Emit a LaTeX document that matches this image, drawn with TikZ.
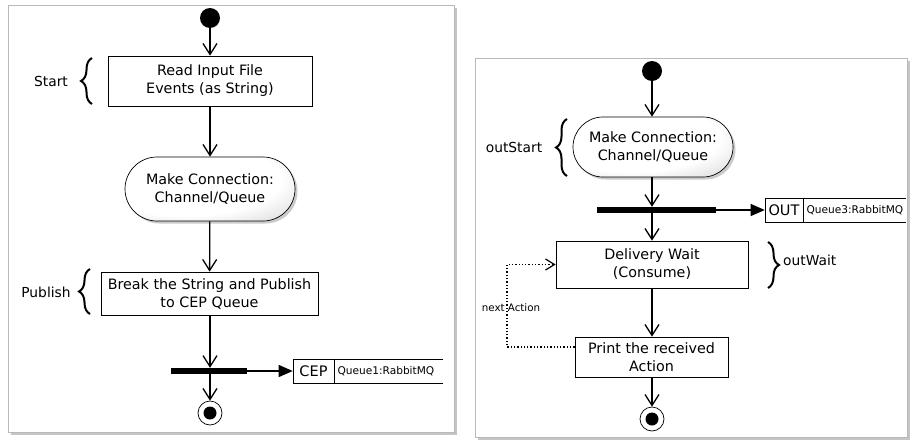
\documentclass[tikz,border=0pt]{standalone}
\usepackage{fontspec}
\setmainfont{DejaVu Sans}
\usetikzlibrary{arrows.meta,shapes.misc,shadows,decorations.pathreplacing}
\pgfdeclareradialshading{actball}{\pgfpoint{-12bp}{12bp}}{%
  color(0bp)=(white); color(28bp)=(white); color(44bp)=(gray!35); color(56bp)=(gray!70); color(70bp)=(gray!70)}
\begin{document}
\begin{tikzpicture}[x=1pt,y=-1pt,
  every node/.style={font=\fontsize{14.3}{18}\selectfont, align=center, inner sep=0pt},
  panel/.style={fill=white, draw=gray!55, line width=0.8pt, drop shadow={shadow xshift=2.5pt, shadow yshift=-3pt, opacity=0.45, fill=gray}},
  initial/.style={circle, fill=black, minimum size=20pt},
  final/.style={circle, draw=black, line width=0.7pt, minimum size=24pt, fill=white,
     path picture={\fill[black] (path picture bounding box.center) circle (6.5pt);}},
  actbox/.style={rectangle, draw=black, line width=0.7pt, fill=white},
  roundact/.style={rounded rectangle, draw=black, line width=0.7pt, shading=actball,
     drop shadow={shadow xshift=2.5pt, shadow yshift=-2.5pt, opacity=0.5, fill=gray!80}},
  forkbar/.style={rectangle, fill=black, minimum height=6pt},
  tagcell/.style={rectangle, draw=black, line width=0.6pt, minimum height=24pt, fill=white, font=\fontsize{14.5}{16}\selectfont},
  qcell/.style={rectangle, minimum height=24pt, inner xsep=3pt, align=left, font=\fontsize{10.6}{13}\selectfont, anchor=west},
  flow/.style={line width=1.3pt, -{Straight Barb[length=11pt,width=14pt,line width=1.3pt]}},
  objflow/.style={line width=1.3pt, -{Triangle[length=14pt,width=12pt]}},
  loopflow/.style={line width=1.3pt, dotted, -{Straight Barb[length=9pt,width=11pt,line width=1.2pt]}},
  bracebig/.style={decorate, decoration={brace, amplitude=11pt}, line width=2pt},
  sidelabel/.style={font=\fontsize{13.8}{15}\selectfont},
  smalllabel/.style={font=\fontsize{10.3}{12}\selectfont}
]
\useasboundingbox (0,0) rectangle (914,442);
\fill[white] (0,0) rectangle (914,442);

% panels
\path[panel] (8,5) rectangle (454,432);
\path[panel] (475,58) rectangle (907,437);

% ---------- left diagram ----------
\node[initial] (s1) at (210,18) {};
\node[actbox, minimum width=204pt, minimum height=50pt] (read) at (210,81) {Read Input File\\Events (as String)};
\node[roundact, minimum width=170pt, minimum height=64pt] (conn1) at (210,189) {Make Connection:\\Channel/Queue};
\node[actbox, minimum width=217pt, minimum height=43pt] (pub) at (209.5,293.5) {Break the String and Publish\\to CEP Queue};
\node[forkbar, minimum width=76pt] (bar1) at (209,371) {};
\node[tagcell, minimum width=41pt] (cep) at (313.5,371) {CEP};
\node[qcell, text width=102pt] (q1) at (cep.east) {Queue1:RabbitMQ};
\draw[line width=0.6pt] (q1.north west) -- (q1.north east);
\draw[line width=0.6pt] (q1.south west) -- (q1.south east);
\node[final] (e1) at (210,413) {};

\draw[flow] (s1) -- (read);
\draw[flow] (read) -- (conn1);
\draw[flow] (conn1) -- (pub);
\draw[flow] (pub.south -| s1) -- (bar1.north -| s1);
\draw[objflow] (bar1.east) -- (cep.west);
\draw[flow] (bar1.south -| s1) -- (e1);

\node[sidelabel] (lstart) at (51,81) {Start};
\draw[bracebig] (92,104) -- (92,58);
\node[sidelabel] (lpub) at (46,292) {Publish};
\draw[bracebig] (90,314) -- (90,269);

% ---------- right diagram ----------
\node[initial] (s2) at (652,71) {};
\node[roundact, minimum width=160pt, minimum height=60pt] (conn2) at (653,147) {Make Connection:\\Channel/Queue};
\node[forkbar, minimum width=119pt] (bar2) at (656.5,210) {};
\node[tagcell, minimum width=38pt] (outc) at (784,210) {OUT};
\node[qcell, text width=96pt] (q3) at (outc.east) {Queue3:RabbitMQ};
\draw[line width=0.6pt] (q3.north west) -- (q3.north east);
\draw[line width=0.6pt] (q3.south west) -- (q3.south east);
\node[actbox, minimum width=192pt, minimum height=47pt] (deliv) at (652,264.5) {Delivery Wait\\(Consume)};
\node[actbox, minimum width=153pt, minimum height=40pt] (print) at (651.5,357) {Print the received\\Action};
\node[final] (e2) at (652,419) {};

\draw[flow] (s2) -- (conn2.north -| s2);
\draw[flow] (conn2.south -| s2) -- (bar2.north -| s2);
\draw[objflow] (bar2.east) -- (outc.west);
\draw[flow] (bar2.south -| s2) -- (deliv.north -| s2);
\draw[flow] (deliv.south -| s2) -- (print.north -| s2);
\draw[flow] (print.south -| s2) -- (e2);

\coordinate (lc) at (507,300);
\draw[loopflow] ([yshift=10pt]print.west) -- ([yshift=10pt]print.west -| lc) -- (deliv.west -| lc) -- (deliv.west);
\node[smalllabel] (nextlbl) at (511,308) {next Action};

\node[sidelabel] (lout) at (514,147) {outStart};
\draw[bracebig] (567,176) -- (567,119);
\node[sidelabel, anchor=west] (lwait) at (783,260) {outWait};
\draw[bracebig] (768,242) -- (768,288);
\end{tikzpicture}
\end{document}
